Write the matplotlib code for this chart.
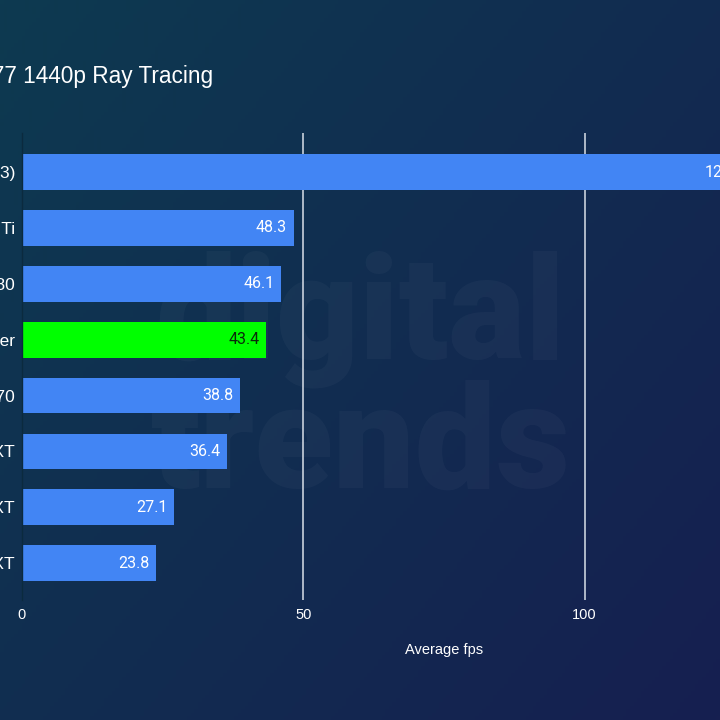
import numpy as np
import matplotlib
matplotlib.use("Agg")
import matplotlib.pyplot as plt

# data
gpus = ["RTX 4070 Super (DLSS 3)", "RTX 4070 Ti", "RTX 3080", "RTX 4070 Super",
        "RTX 4070", "RX 7900 XT", "RX 7800 XT", "RX 7700 XT"]
fps = [129.6, 48.3, 46.1, 43.4, 38.8, 36.4, 27.1, 23.8]
highlight = "RTX 4070 Super"
xticks = [0, 50, 100, 150]
title = "Cyberpunk 2077 1440p Ray Tracing"

W = H = 720
fig = plt.figure(figsize=(7.2, 7.2), dpi=100)

# gradient background
bg = fig.add_axes([0, 0, 1, 1], zorder=-10)
yy, xx = np.mgrid[0:1:200j, 0:1:200j]
t = np.clip(0.55 * xx + 0.45 * yy, 0, 1)
c0 = np.array([0x0d, 0x3a, 0x50]) / 255
c1 = np.array([0x16, 0x1f, 0x50]) / 255
img = c0[None, None, :] * (1 - t[..., None]) + c1[None, None, :] * t[..., None]
bg.imshow(img, aspect="auto", extent=[0, 1, 0, 1], origin="upper")
bg.axis("off")

# watermark
bg.text(0.50, 1 - 358 / H, "digital", transform=bg.transAxes, ha="center", va="baseline",
        fontsize=104, fontweight="black", family="Roboto", color="white", alpha=0.03)
bg.text(0.50, 1 - 488 / H, "trends", transform=bg.transAxes, ha="center", va="baseline",
        fontsize=104, fontweight="black", family="Roboto", color="white", alpha=0.03)

# main axes (extends past the right edge, like the cropped original)
left, right = 22, 866
top, bottom = 133, 600
ax = fig.add_axes([left / W, 1 - bottom / H, (right - left) / W, (bottom - top) / H])
ax.set_facecolor("none")

y = np.arange(len(gpus))
ax.set_xlim(0, 150)
ax.set_ylim(7.66, -0.70)

for xv in xticks[1:]:
    ax.axvline(xv, color="#c9d1dc", lw=1.2, zorder=1)

h = 0.64
for i, (g, v) in enumerate(zip(gpus, fps)):
    col = "#00ff00" if g == highlight else "#4285f4"
    ax.barh(i, v, height=h, color=col, zorder=2)
    tc = "#0a2a0a" if g == highlight else "white"
    ax.text(v - 1.2, i, f"{v:.1f}", ha="right", va="center", color=tc,
            fontsize=11.5, family="Roboto", zorder=3)

ax.set_yticks(y)
ax.set_yticklabels(gpus, color="white", fontsize=12.5, family="Liberation Sans")
ax.tick_params(axis="y", length=0, pad=5)
ax.set_xticks(xticks)
ax.set_xticklabels([str(x) for x in xticks], color="white", fontsize=10.5,
                   family="Liberation Sans")
ax.tick_params(axis="x", length=0, pad=6)
for s in ["top", "right", "bottom"]:
    ax.spines[s].set_visible(False)
ax.spines["left"].set_color("#0b2a3e")
ax.spines["left"].set_linewidth(1.0)

ax.set_xlabel("Average fps", color="white", fontsize=10.5, family="Liberation Sans",
              labelpad=15)

# title, left part cut off by the crop
fig.text(213 / W, 1 - 76 / H, title, ha="right", va="center", color="white",
         fontsize=16.3, family="Liberation Sans")

fig.savefig("out.png", dpi=100)
